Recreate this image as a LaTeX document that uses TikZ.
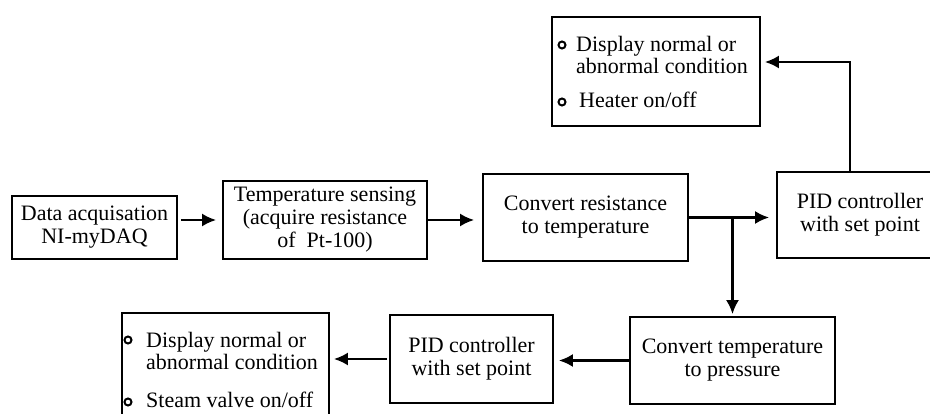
\documentclass[tikz,border=0pt]{standalone}
\usepackage{fontspec}
\setmainfont{Liberation Serif}
\usetikzlibrary{arrows.meta}
\newcommand{\boxfont}{\fontsize{22}{23}\selectfont}

\begin{document}
\begin{tikzpicture}[x=1pt,y=-1pt,
	block/.style={draw, line width=1.8pt, inner sep=0pt, align=center, font=\boxfont},
	item/.style={anchor=base west, inner sep=0pt, font=\boxfont},
	ring/.style={draw, circle, line width=2pt, minimum size=7pt, inner sep=0pt},
	flow/.style={line width=2.2pt, -{Latex[length=14pt,width=13pt]}}]
	\useasboundingbox (0,0) rectangle (930,414);
	\clip (0,0) rectangle (930,414);

	\node[block, minimum width=165, minimum height=63] (acq) at (94.5,227.5) {Data acquisation\\NI-myDAQ};
	\node[block, minimum width=204, minimum height=78] (sense) at (325,220) {Temperature sensing\\(acquire resistance\\of\ \ Pt-100)};
	\node[block, minimum width=205, minimum height=87] (conv) at (585.5,217.5) {Convert resistance\\to temperature};
	\node[block, minimum width=166, minimum height=86] (pidtop) at (860,215) {PID controller\\with set point};
	\node[block, minimum width=208, minimum height=109] (heat) at (656,71.5) {};
	\node[block, minimum width=205, minimum height=87] (press) at (732.5,360.5) {Convert temperature\\to pressure};
	\node[block, minimum width=163, minimum height=88] (pidlow) at (471.5,359) {PID controller\\with set point};
	\node[block, minimum width=207, minimum height=114] (valve) at (225.5,370) {};

	\node[ring] (hb1) at (562,45) {};
	\node[item] (h1) at (576,52) {Display normal or};
	\node[item] (h2) at (576,74) {abnormal condition};
	\node[ring] (hb2) at (562,102) {};
	\node[item] (h3) at (579,108) {Heater on/off};

	\node[ring] (vb1) at (128,340) {};
	\node[item] (v1) at (146,348) {Display normal or};
	\node[item] (v2) at (146,370) {abnormal condition};
	\node[ring] (vb2) at (128,402) {};
	\node[item] (v3) at (146,407) {Steam valve on/off};

	\draw[flow, shorten <=3pt, shorten >=6pt] (acq.east |- sense.west) -- (sense.west);
	\draw[flow, shorten >=8pt] (sense.east) -- (conv.west |- sense.east);
	\draw[flow, shorten >=7pt] (conv.east) -- (pidtop.west |- conv.east);
	\draw[flow, shorten >=2pt] (press.north |- conv.east) -- (press.north);
	\draw[flow, shorten >=4pt] ([xshift=-10pt]pidtop.north) |- ([yshift=9.5pt]heat.east);
	\draw[flow, shorten >=5pt] (press.west) -- (pidlow.east |- press.west);
	\draw[flow, shorten <=2pt, shorten >=4pt] (pidlow.west) -- (valve.east |- pidlow.west);
\end{tikzpicture}
\end{document}
